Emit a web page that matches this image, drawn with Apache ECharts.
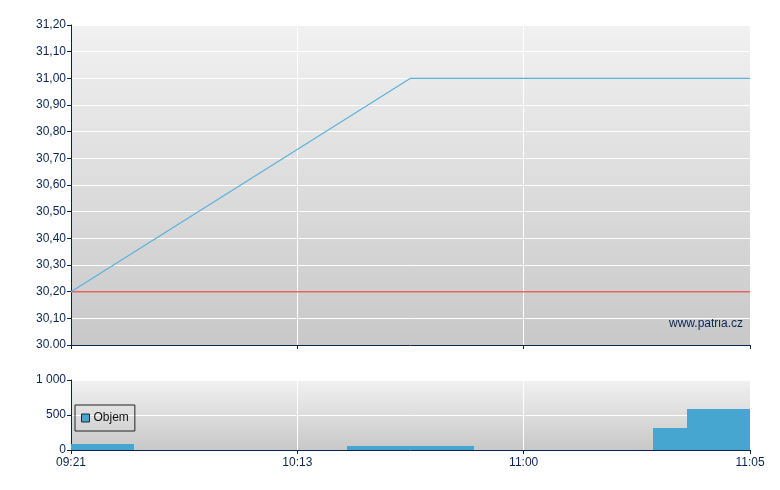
<!DOCTYPE html>
<html>
<head>
<meta charset="utf-8">
<script src="https://cdn.jsdelivr.net/npm/echarts@6/dist/echarts.min.js"></script>
<style>
html,body{margin:0;padding:0;background:#fff;}
#c{width:780px;height:490px;}
</style>
</head>
<body>
<div id="c"></div>
<script>
// ---- data ----
var timeLabels = ['09:21', '10:13', '11:00', '11:05'];
var priceLabels = ['30.00', '30,10', '30,20', '30,30', '30,40', '30,50', '30,60', '30,70', '30,80', '30,90', '31,00', '31,10', '31,20'];
var volumeLabels = ['0', '500', '1 000'];
var pricePos = [0, 150, 300];
var priceVals = [30.20, 31.00, 31.00];
var prevClose = 30.20;
var volStart = [0, 122, 257, 272];
var volEnd = [28, 178, 272, 300];
var volVals = [88, 55, 314, 586];

// ---- chart ----
var FONT = 'Liberation Sans';
var navy = '#0a2452';
var chart = echarts.init(document.getElementById('c'), null, {renderer: 'canvas'});

function grad(){
  return {type:'linear', x:0, y:0, x2:0, y2:1,
    colorStops:[{offset:0,color:'#f1f1f1'},{offset:1,color:'#c8c8c8'}]};
}
var xCommon = {
  type:'value', min:0, max:300, interval:100,
  axisLine:{show:true, lineStyle:{color:navy, width:1}},
  axisTick:{show:true, length:4, lineStyle:{color:navy}},
  splitLine:{show:true, lineStyle:{color:'#ffffff', width:1}}
};

var volData = volVals.map(function(v,i){ return [volStart[i], volEnd[i], v]; });
var lineData = pricePos.map(function(p,i){ return [p, priceVals[i]]; });

chart.setOption({
  animation:false,
  backgroundColor:'#ffffff',
  textStyle:{fontFamily:FONT},
  grid:[
    {left:71, top:25, width:679, height:320, show:true, borderWidth:0, backgroundColor:grad()},
    {left:71, top:380, width:679, height:70, show:true, borderWidth:0, backgroundColor:grad()}
  ],
  xAxis:[
    Object.assign({gridIndex:0, axisLabel:{show:false}}, xCommon),
    Object.assign({gridIndex:1, axisLabel:{show:true, color:navy, fontSize:12, fontFamily:FONT, margin:7,
      formatter:function(v){ return timeLabels[Math.round(v/100)]; }}}, xCommon)
  ],
  yAxis:[
    {gridIndex:0, type:'value', min:30, max:31.2, interval:0.1,
      axisLine:{show:true, lineStyle:{color:navy}},
      axisTick:{show:true, length:4, lineStyle:{color:navy}},
      splitLine:{show:true, lineStyle:{color:'#ffffff'}},
      axisLabel:{color:navy, fontSize:12, fontFamily:FONT, margin:5,
        formatter:function(v){ return priceLabels[Math.round((v-30)*10)]; }}},
    {gridIndex:1, type:'value', min:0, max:1000, interval:500,
      axisLine:{show:true, lineStyle:{color:navy}},
      axisTick:{show:true, length:4, lineStyle:{color:navy}},
      splitLine:{show:true, lineStyle:{color:'#ffffff'}},
      axisLabel:{color:navy, fontSize:12, fontFamily:FONT, margin:5,
        formatter:function(v){ return volumeLabels[Math.round(v/500)]; }}}
  ],
  legend:{
    show:true, left:75, top:405, orient:'horizontal',
    padding:[7,6,7,6], itemGap:4, itemWidth:8, itemHeight:8,
    borderColor:'#222', borderWidth:1, borderRadius:0, backgroundColor:'transparent',
    textStyle:{color:'#111', fontSize:12, fontFamily:FONT, padding:[0,0,0,-1]},
    data:[{name:'Objem', icon:'rect', itemStyle:{color:'#46a6cf', borderColor:'#1a2a3a', borderWidth:1}}]
  },
  graphic:[
    {type:'text', right:37, top:318, style:{text:'www.patria.cz', fill:navy, font:'12px "Liberation Sans"'}}
  ],
  series:[
    {type:'line', name:'prev', xAxisIndex:0, yAxisIndex:0, symbol:'none',
      data:[[0, prevClose],[300, prevClose]],
      lineStyle:{color:'#e86464', width:1.5}, silent:true, z:3},
    {type:'line', name:'Cena', xAxisIndex:0, yAxisIndex:0, symbol:'none',
      data:lineData, lineStyle:{color:'#5ab2dc', width:1.2}, z:4},
    {type:'custom', name:'Objem', xAxisIndex:1, yAxisIndex:1,
      encode:{x:[0,1], y:2},
      data:volData,
      renderItem:function(params, api){
        var p0 = api.coord([api.value(0), api.value(2)]);
        var p1 = api.coord([api.value(1), 0]);
        var x0 = Math.round(p0[0]), x1 = Math.round(p1[0]);
        var y0 = Math.round(p0[1]), y1 = Math.round(p1[1]);
        return {type:'rect', shape:{x:x0, y:y0, width:x1-x0, height:y1-y0},
          style:{fill:'#46a6cf'}};
      },
      itemStyle:{color:'#46a6cf'}, z:3}
  ]
});
</script>
</body>
</html>
